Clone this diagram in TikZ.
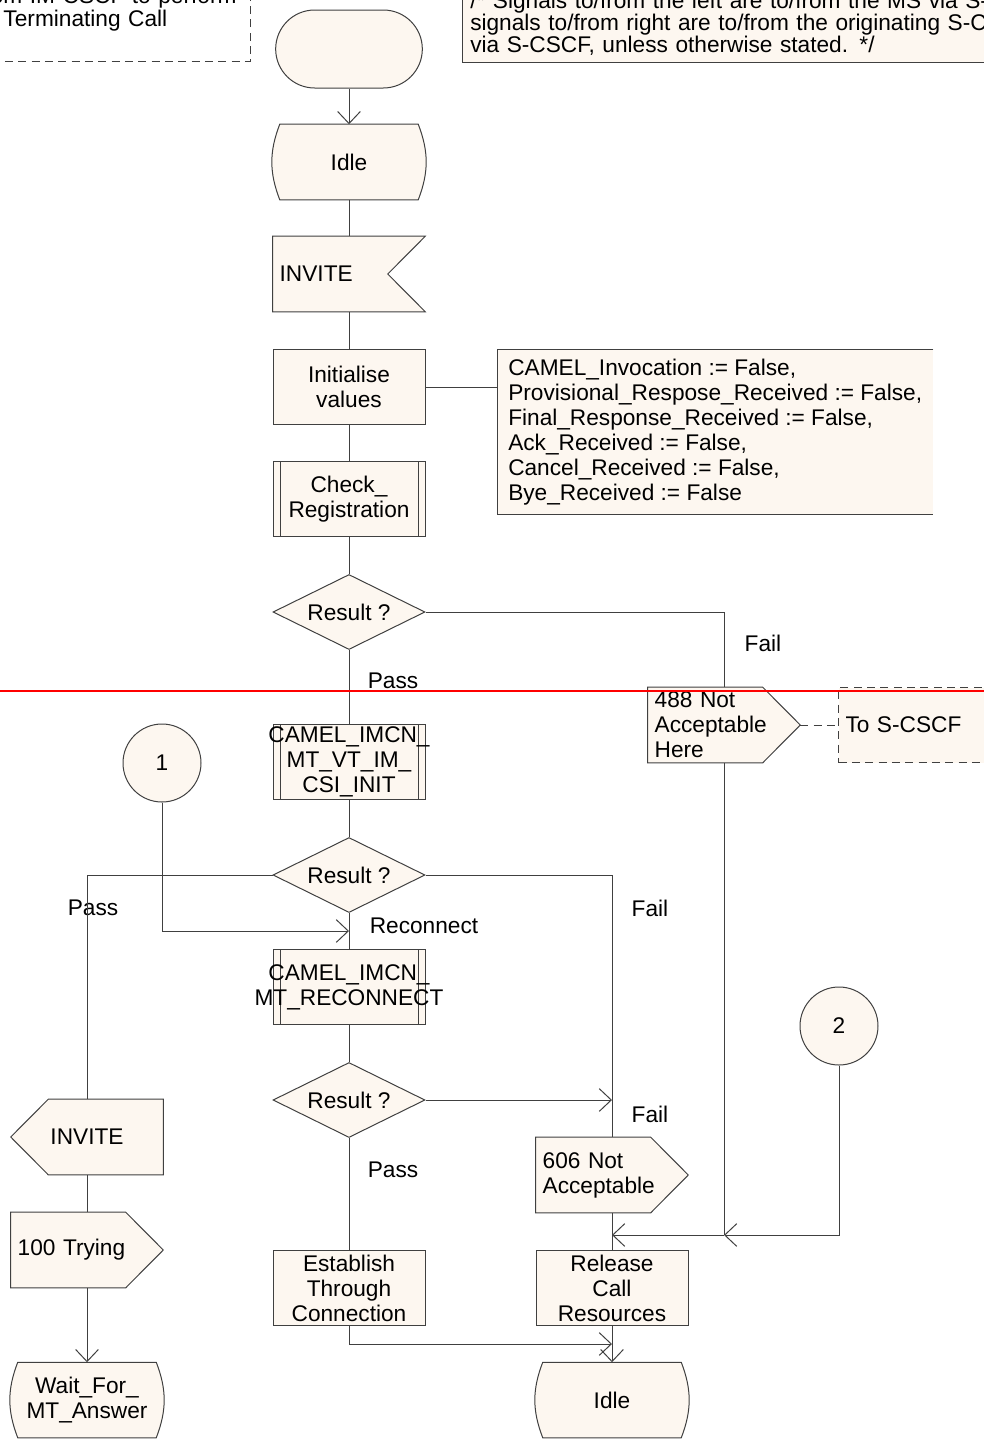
\documentclass[tikz,border=0pt]{standalone}
\usepackage{fontspec}
\setmainfont{Liberation Sans}
\usetikzlibrary{shapes.geometric, shapes.misc, arrows.meta, backgrounds}

\definecolor{sdlfill}{RGB}{253,247,240}
\definecolor{sdlline}{RGB}{64,64,64}

\newcommand{\sdlwide}[1]{\makebox[0pt]{#1}}
% outlines, drawn behind the text boxes
\newcommand{\sdlin}[1]{\filldraw[sigshape] (#1.north west) -- (#1.north east) -- ([xshift=-28.125pt]#1.east) -- (#1.south east) -- (#1.south west) -- cycle;}
\newcommand{\sdlout}[1]{\filldraw[sigshape] (#1.north west) -- ([xshift=-28.125pt]#1.north east) -- (#1.east) -- ([xshift=-28.125pt]#1.south east) -- (#1.south west) -- cycle;}
\newcommand{\sdloutleft}[1]{\filldraw[sigshape] ([xshift=28.125pt]#1.north west) -- (#1.north east) -- (#1.south east) -- ([xshift=28.125pt]#1.south west) -- (#1.west) -- cycle;}
\newcommand{\sdlstate}[1]{\filldraw[sigshape] (#1.north west) -- (#1.north east) to[bend left=21] (#1.south east) -- (#1.south west) to[bend left=21] (#1.north west) -- cycle;}

\tikzset{
	sdl/.style={
		draw=sdlline,
		fill=sdlfill,
		line width=0.75pt,
		minimum width=114pt,
		minimum height=56.25pt,
		inner xsep=2pt,
		inner ysep=0pt,
		align=center
	},
	task/.style={sdl, rectangle},
	proc/.style={sdl, rectangle, path picture={
		\draw[sdlline, line width=0.75pt]
			([xshift=5.25pt]path picture bounding box.north west) -- ([xshift=5.25pt]path picture bounding box.south west)
			([xshift=-5.25pt]path picture bounding box.north east) -- ([xshift=-5.25pt]path picture bounding box.south east);
	}},
	decision/.style={sdl, diamond, aspect=2, inner sep=0pt},
	state/.style={rectangle, minimum width=103.5pt, minimum height=56.25pt, inner xsep=2pt, inner ysep=0pt, align=center},
	startsym/.style={sdl, rounded rectangle, minimum height=58.5pt},
	conn/.style={sdl, circle, minimum size=58.5pt},
	sigbox/.style={
		rectangle,
		minimum width=114pt,
		minimum height=56.25pt,
		inner xsep=2pt,
		inner ysep=0pt,
		text width=104pt,
		align=left
	},
	sigshape/.style={draw=sdlline, fill=sdlfill, line width=0.75pt},
	comment/.style={rectangle, fill=sdlfill, align=left},
	note/.style={rectangle, draw=sdlline, dash pattern=on 6pt off 4pt, line width=0.75pt, align=left},
	flow/.style={draw=sdlline, line width=0.75pt},
	lbl/.style={inner sep=0pt}
}

\begin{document}
\begin{tikzpicture}[x=0.75pt, y=-0.75pt, >={Straight Barb[length=9pt,width=17pt]},
	every node/.style={font=\fontsize{17}{18.75}\selectfont}]
	\useasboundingbox (0,0) rectangle (984,1450);

	% comments at the top
	\node[note, anchor=south west, text width=176.25pt, inner xsep=9pt, inner ysep=23pt,
		font=\fontsize{17}{15.75}\selectfont] (calldsc) at (-9,62) {\llap{fro}m IM-CSCF to perform\\Terminating Call};
	\node[comment, anchor=south west, text width=600pt, inner xsep=6pt, inner ysep=5pt,
		font=\fontsize{17}{16.5}\selectfont] (sigdsc) at (462,62) {/* Signals to/from the left are to/from the MS via S-CSCF;\\signals to/from right are to/from the originating S-CSCF\\via S-CSCF, unless otherwise stated. */};
	\draw[flow] (sigdsc.north east) -| (sigdsc.south west) -- (sigdsc.south east);

	% main column
	\node[startsym] (start) at (349,49) {};
	\node[state] (idle) at (349,162) {Idle};
	\node[sigbox] (invite) at (349,274) {INVITE};
	\node[task] (init) at (349,387) {Initialise\\values};
	\node[proc] (checkreg) at (349,499) {Check\_\\Registration};
	\node[decision] (result1) at (349,612) {Result ?};
	\node[proc] (csiinit) at (349,762) {\sdlwide{CAMEL\_IMCN\_}\\\sdlwide{MT\_VT\_IM\_}\\\sdlwide{CSI\_INIT}};
	\node[decision] (result2) at (349,875) {Result ?};
	\node[proc] (reconnect) at (349,987) {\sdlwide{CAMEL\_IMCN\_}\\\sdlwide{MT\_RECONNECT}};
	\node[decision] (result3) at (349,1100) {Result ?};
	\node[task] (establish) at (349,1288) {Establish\\Through\\Connection};

	% initial values
	\node[comment, anchor=north west, minimum height=123.75pt, inner xsep=8.25pt] (initdsc) at (497,349) {CAMEL\_Invocation := False,\\Provisional\_Respose\_Received := False,\\Final\_Response\_Received := False,\\Ack\_Received := False,\\Cancel\_Received := False,\\Bye\_Received := False};
	\draw[flow] (initdsc.north east) -| (initdsc.south west) -- (initdsc.south east);

	% rejection branch
	\node[sigbox] (notacc488) at (724,725) {488 Not\\Acceptable\\Here};
	\node[comment, note, anchor=west, minimum height=56.25pt, text width=200pt, inner xsep=5.25pt] (tocscf) at (838,725) {To S-CSCF};
	\node[sigbox] (notacc606) at (612,1175) {606 Not\\Acceptable};
	\node[task] (release) at (612,1288) {Release\\Call\\Resources};
	\node[state] (idleend) at (612,1400) {Idle};
	\node[conn] (conn2) at (839,1026) {2};

	% pass branch
	\node[conn] (conn1) at (162,763) {1};
	\node[sigbox, align=center] (inviteout) at (87,1137) {INVITE};
	\node[sigbox] (trying) at (87,1250) {100 Trying};
	\node[state] (waitans) at (87,1400) {Wait\_For\_\\MT\_Answer};

	\begin{scope}[on background layer]
	\sdlstate{idle}
	\sdlstate{idleend}
	\sdlstate{waitans}
	\sdlin{invite}
	\sdlout{notacc488}
	\sdlout{notacc606}
	\sdloutleft{inviteout}
	\sdlout{trying}
	\end{scope}

	% branch labels
	\node[lbl] (fail1) at (763,643) {Fail};
	\node[lbl] (pass1) at (393,681) {Pass};
	\node[lbl] (pass2) at (93,908) {Pass};
	\node[lbl] (fail2) at (650,908) {Fail};
	\node[lbl] (reconlbl) at (424,926) {Reconnect};
	\node[lbl] (fail3) at (650,1114) {Fail};
	\node[lbl] (pass3) at (393,1170) {Pass};

	\coordinate (rejoin) at (349,931);
	\coordinate (failjoin) at (612,1100);
	\coordinate (estjoin) at (612,1344);
	\coordinate (join488) at (724,1235);
	\coordinate (joinrel) at (612,1235);

	% connectors
	\draw[flow, ->] (start) -- (idle);
	\draw[flow] (idle) -- (invite) (invite) -- (init) (init) -- (checkreg) (checkreg) -- (result1);
	\draw[flow] (init.east) -- (init.east -| initdsc.west);
	\draw[flow] (result1.east) -| (notacc488);
	\draw[flow, dash pattern=on 6pt off 4pt] (notacc488) -- (tocscf);
	\draw[flow] (result1) -- (csiinit) (csiinit) -- (result2);
	\draw[flow] (notacc488) -- (join488);
	\draw[flow] (result2.west) -| (inviteout);
	\draw[flow] (result2.east) -| (notacc606);
	\draw[flow, ->] (conn1) |- (rejoin);
	\draw[flow] (result2) -- (reconnect) (reconnect) -- (result3);
	\draw[flow, ->] (result3.east) -- (failjoin);
	\draw[flow] (result3) -- (establish);
	\draw[flow, ->] (establish) |- (estjoin);
	\draw[flow] (notacc606) -- (release);
	\draw[flow, ->] (conn2) |- (join488);
	\draw[flow, ->] (join488) -- (joinrel);
	\draw[flow, ->] (release) -- (idleend);
	\draw[flow] (inviteout) -- (trying);
	\draw[flow, ->] (trying) -- (waitans);

	% page break
	\draw[red, line width=1.5pt] (0,691) -- (984,691);
\end{tikzpicture}
\end{document}
